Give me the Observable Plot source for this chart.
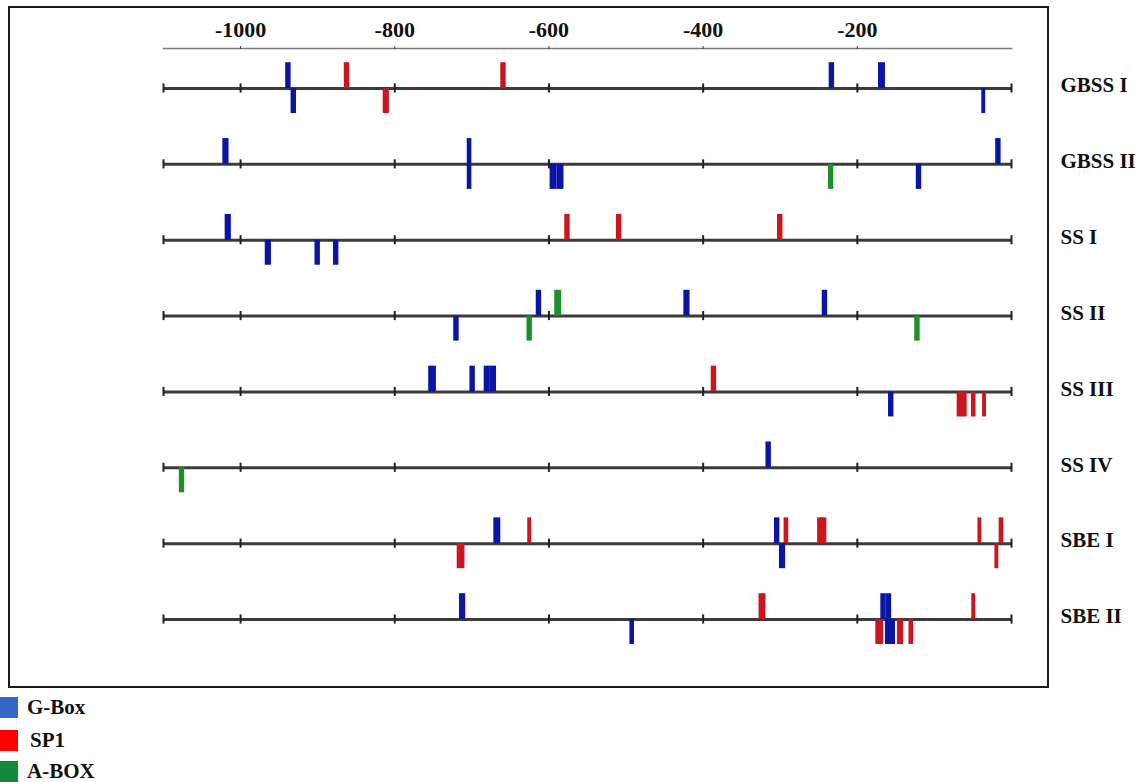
<!DOCTYPE html>
<html>
<head>
<meta charset="utf-8">
<script src="https://cdn.jsdelivr.net/npm/d3@7"></script>
<script src="https://cdn.jsdelivr.net/npm/@observablehq/plot@0.6"></script>
<style>
  body { margin: 0; background: #fff; font-family: "Liberation Serif", "Times New Roman", serif; }
  #wrap { position: relative; width: 1143px; height: 782px; overflow: hidden; }
  #chart { position: absolute; left: 0; top: 0; }
  #box { position: absolute; left: 8px; top: 6px; width: 1037px; height: 678px; border: 2px solid #1a1a1a; pointer-events: none; }
  .leg { position: absolute; left: 0; height: 22px; display: flex; align-items: center; font-weight: bold; font-size: 21px; color: #111; }
  .sw { width: 18px; height: 21px; }
</style>
</head>
<body>
<div id="wrap">
  <div id="chart"></div>
  <div id="box"></div>
  <div id="legend"></div>
</div>
<script>
// ---- data ----
const genes = ["GBSS I", "GBSS II", "SS I", "SS II", "SS III", "SS IV", "SBE I", "SBE II"];
const axisTicks = [-1000, -800, -600, -400, -200];
const lineTicks = [-1100, -1000, -800, -600, -400, -200, 0];
const promoterStart = -1100;
const promoterEnd = 0;

const motifTypes = ["G-Box", "SP1", "A-BOX"];
const barColors = ["#0c14a6", "#cc151e", "#1f8f2a"];
const legendColors = ["#3567c6", "#ff0000", "#138a3a"];

// [gene, centre position (bp), side (+1 above / -1 below), motif length (bp)]
const gBoxSites = [
  ["GBSS I", -938, 1, 7], ["GBSS I", -931, -1, 7], ["GBSS I", -233, 1, 7], ["GBSS I", -168, 1, 9], ["GBSS I", -36, -1, 5],
  ["GBSS II", -1019, 1, 8], ["GBSS II", -703, 1, 6], ["GBSS II", -703, -1, 6], ["GBSS II", -594, -1, 9], ["GBSS II", -585, -1, 9],
  ["GBSS II", -120, -1, 7], ["GBSS II", -17, 1, 7],
  ["SS I", -1016, 1, 8], ["SS I", -964, -1, 8], ["SS I", -900, -1, 7], ["SS I", -876, -1, 7],
  ["SS II", -720, -1, 7], ["SS II", -613, 1, 7], ["SS II", -421, 1, 8], ["SS II", -242, 1, 7],
  ["SS III", -751, 1, 10], ["SS III", -699, 1, 7], ["SS III", -680, 1, 8], ["SS III", -672, 1, 8], ["SS III", -156, -1, 7],
  ["SS IV", -315, 1, 7],
  ["SBE I", -667, 1, 9], ["SBE I", -304, 1, 7], ["SBE I", -297, -1, 8],
  ["SBE II", -712, 1, 8], ["SBE II", -492, -1, 6], ["SBE II", -166, 1, 7], ["SBE II", -159, 1, 7],
  ["SBE II", -160, -1, 7], ["SBE II", -154, -1, 7]
];
const sp1Sites = [
  ["GBSS I", -862, 1, 7], ["GBSS I", -811, -1, 8], ["GBSS I", -659, 1, 7],
  ["SS I", -576, 1, 7], ["SS I", -509, 1, 7], ["SS I", -300, 1, 7],
  ["SS III", -386, 1, 7], ["SS III", -67, -1, 7], ["SS III", -61, -1, 7], ["SS III", -49, -1, 6], ["SS III", -35, -1, 5],
  ["SBE I", -714, -1, 10], ["SBE I", -625, 1, 5], ["SBE I", -292, 1, 6], ["SBE I", -248, 1, 7], ["SBE I", -243, 1, 7],
  ["SBE I", -41, 1, 5], ["SBE I", -19, -1, 5], ["SBE I", -13, 1, 6],
  ["SBE II", -323, 1, 9], ["SBE II", -171, -1, 10], ["SBE II", -144, -1, 8], ["SBE II", -130, -1, 6], ["SBE II", -49, 1, 5]
];
const aBoxSites = [
  ["GBSS II", -234, -1, 7],
  ["SS II", -625, -1, 7], ["SS II", -588, 1, 9], ["SS II", -122, -1, 7],
  ["SS IV", -1076, -1, 7]
];

// ---- build tables ----
const toSites = (arr, type) => arr.map(([gene, center, side, len]) => ({type, gene, center, side, len}));
const sites = [
  ...toSites(sp1Sites, "SP1"),
  ...toSites(gBoxSites, "G-Box"),
  ...toSites(aBoxSites, "A-BOX")
];
const row = g => genes.indexOf(g);
const tickData = genes.flatMap((g, i) => lineTicks.map(x => ({row: i, x})));

const chart = Plot.plot({
  width: 1143,
  height: 692,
  marginLeft: 163,
  marginRight: 132,
  marginTop: 48,
  marginBottom: 73,
  x: {domain: [promoterStart, promoterEnd]},
  y: {domain: [0, genes.length - 1], range: [88, 619]},
  color: {domain: motifTypes, range: barColors},
  style: {fontFamily: "Liberation Serif, Times New Roman, serif", background: "transparent", color: "#111"},
  marks: [
    Plot.frame({anchor: "top", stroke: "#7a7a7a", strokeWidth: 1.5}),
    Plot.axisX({anchor: "top", ticks: axisTicks, tickFormat: d => String(d), tickSize: 3, tickPadding: 9,
      fontSize: 22, fontWeight: "bold", label: null, stroke: "#444"}),
    Plot.axisY({anchor: "right", ticks: d3.range(genes.length), tickFormat: i => genes[i], tickSize: 0,
      tickPadding: 49, fontSize: 21, fontWeight: "bold", label: null, dy: -3}),
    Plot.ruleY(genes, {y: (d, i) => i, x1: () => promoterStart, x2: () => promoterEnd, stroke: "#3b3b3b", strokeWidth: 3}),
    Plot.ruleX(tickData, {x: "x", y1: d => d.row - 0.06, y2: d => d.row + 0.06, stroke: "#222", strokeWidth: 2}),
    Plot.rect(sites, {
      x1: d => d.center - d.len / 2,
      x2: d => d.center + d.len / 2,
      y1: d => row(d.gene) - (d.side > 0 ? 0.34 : 0),
      y2: d => row(d.gene) + (d.side < 0 ? 0.33 : 0),
      fill: "type"
    })
  ]
});
document.getElementById("chart").appendChild(chart);

// ---- legend ----
const legendTops = [696, 729, 760];
const legend = document.getElementById("legend");
motifTypes.forEach((name, i) => {
  const item = document.createElement("div");
  item.className = "leg";
  item.style.top = legendTops[i] + "px";
  const sw = document.createElement("div");
  sw.className = "sw";
  sw.style.background = legendColors[i];
  const label = document.createElement("span");
  label.textContent = name;
  label.style.marginLeft = (name === "SP1" ? 12 : 9) + "px";
  item.appendChild(sw);
  item.appendChild(label);
  legend.appendChild(item);
});
</script>
</body>
</html>
